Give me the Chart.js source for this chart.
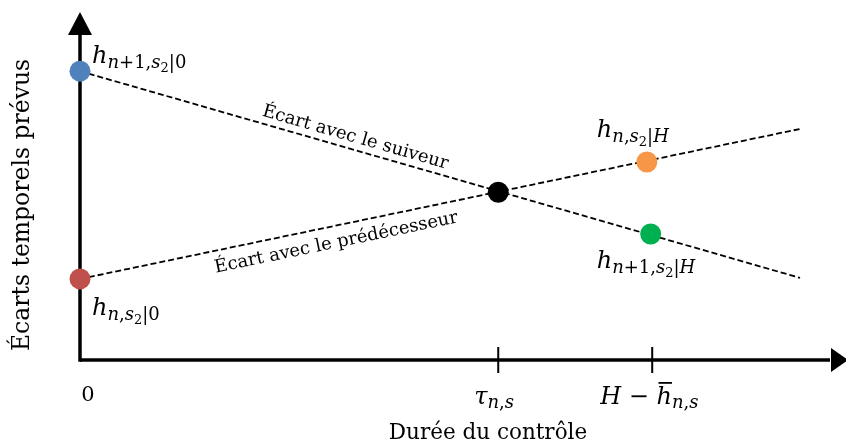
<!DOCTYPE html>
<html>
<head>
<meta charset="utf-8">
<script src="https://cdn.jsdelivr.net/npm/chart.js@4/dist/chart.umd.min.js"></script>
<style>
html, body { margin: 0; padding: 0; background: #fff; }
#wrap { width: 846px; height: 443px; }
</style>
</head>
<body>
<div id="wrap"><canvas id="graphe"></canvas></div>
<script>
// valeurs (unites arbitraires, 0..10 sur chaque axe)
var suiveurX = [0, 9.40];
var suiveurY = [8.30, 2.36];
var predX = [0, 9.40];
var predY = [2.33, 6.64];

var pointX = [0, 0, 5.46, 7.40, 7.45];
var pointY = [8.30, 2.33, 4.82, 5.69, 3.62];
var pointColors = ['#4F81BD', '#C0504D', '#000000', '#F79646', '#00B050'];

var tickX = [0, 5.46, 7.47];

var SERIF = '"DejaVu Serif"';

function toXY(xs, ys) {
	var out = [];
	for (var i = 0; i < xs.length; i++) out.push({x: xs[i], y: ys[i]});
	return out;
}

// segs : [texte, taille, decalage vertical, italique]
function drawMath(ctx, x, y, segs) {
	var cx = x;
	ctx.textAlign = 'left';
	ctx.textBaseline = 'alphabetic';
	segs.forEach(function (s) {
		ctx.font = (s[3] ? 'italic ' : '') + s[1] + 'px ' + SERIF;
		ctx.fillText(s[0], cx, y + s[2]);
		cx += ctx.measureText(s[0]).width;
	});
	return cx;
}

function textAlong(ctx, chart, xs, ys, atX, offset, txt, size) {
	var sx = chart.scales.x, sy = chart.scales.y;
	var x0 = sx.getPixelForValue(xs[0]), y0 = sy.getPixelForValue(ys[0]);
	var x1 = sx.getPixelForValue(xs[1]), y1 = sy.getPixelForValue(ys[1]);
	var ang = Math.atan2(y1 - y0, x1 - x0);
	var px = sx.getPixelForValue(atX);
	var py = y0 + (y1 - y0) * (px - x0) / (x1 - x0);
	ctx.save();
	ctx.translate(px - Math.sin(ang) * offset, py + Math.cos(ang) * offset);
	ctx.rotate(ang);
	ctx.font = size + 'px ' + SERIF;
	ctx.textAlign = 'center';
	ctx.textBaseline = 'middle';
	ctx.fillText(txt, 0, 0);
	ctx.restore();
}

var decor = {
	id: 'decor',
	beforeDatasetsDraw: function (chart) {
		var ctx = chart.ctx, a = chart.chartArea;
		var sx = chart.scales.x;
		var x0 = sx.getPixelForValue(0);
		ctx.save();
		ctx.strokeStyle = '#000';
		ctx.fillStyle = '#000';
		ctx.lineWidth = 3.5;
		// axe vertical
		ctx.beginPath();
		ctx.moveTo(x0, a.bottom + 1.75);
		ctx.lineTo(x0, a.top + 20);
		ctx.stroke();
		ctx.beginPath();
		ctx.moveTo(x0, a.top);
		ctx.lineTo(x0 - 12, a.top + 23);
		ctx.lineTo(x0 + 12, a.top + 23);
		ctx.closePath();
		ctx.fill();
		// axe horizontal
		ctx.beginPath();
		ctx.moveTo(x0, a.bottom);
		ctx.lineTo(a.right - 16, a.bottom);
		ctx.stroke();
		ctx.beginPath();
		ctx.moveTo(a.right + 2, a.bottom);
		ctx.lineTo(a.right - 15, a.bottom - 12);
		ctx.lineTo(a.right - 15, a.bottom + 12);
		ctx.closePath();
		ctx.fill();
		// graduations
		ctx.lineWidth = 2;
		tickX.slice(1).forEach(function (v) {
			var p = sx.getPixelForValue(v);
			ctx.beginPath();
			ctx.moveTo(p, a.bottom - 13);
			ctx.lineTo(p, a.bottom + 13);
			ctx.stroke();
		});
		ctx.restore();
	},
	afterDatasetsDraw: function (chart) {
		var ctx = chart.ctx, a = chart.chartArea;
		var sx = chart.scales.x, sy = chart.scales.y;
		ctx.save();
		ctx.fillStyle = '#000';

		// etiquettes des points
		var px = function (i) { return sx.getPixelForValue(pointX[i]); };
		var py = function (i) { return sy.getPixelForValue(pointY[i]); };
		var M = 24, S = 18, SS = 13;
		drawMath(ctx, px(0) + 12, py(0) - 8, [['h', M, 0, true], ['n', S, 5, true], ['+1,', S, 5, false], ['s', S, 5, true], ['2', SS, 9, false], ['|0', S, 5, false]]);
		drawMath(ctx, px(1) + 12, py(1) + 36, [['h', M, 0, true], ['n', S, 5, true], [',', S, 5, false], ['s', S, 5, true], ['2', SS, 9, false], ['|0', S, 5, false]]);
		drawMath(ctx, px(3) - 50, py(3) - 25, [['h', M, 0, true], ['n', S, 5, true], [',', S, 5, false], ['s', S, 5, true], ['2', SS, 9, false], ['|', S, 5, false], ['H', S, 5, true]]);
		drawMath(ctx, px(4) - 54, py(4) + 34, [['h', M, 0, true], ['n', S, 5, true], ['+1,', S, 5, false], ['s', S, 5, true], ['2', SS, 9, false], ['|', S, 5, false], ['H', S, 5, true]]);

		// libelles des graduations
		ctx.font = '21px ' + SERIF;
		ctx.textAlign = 'center';
		ctx.fillText('0', sx.getPixelForValue(tickX[0]) + 8, a.bottom + 41);
		drawMath(ctx, sx.getPixelForValue(tickX[1]) - 24, a.bottom + 44, [['τ', 24, 0, true], ['n', 18, 4, true], [',', 18, 4, false], ['s', 18, 4, true]]);
		var hx = sx.getPixelForValue(tickX[2]) - 52;
		var after = drawMath(ctx, hx, a.bottom + 44, [['H', 24, 0, true], [' − ', 24, 0, false]]);
		ctx.font = 'italic 24px ' + SERIF;
		var hw = ctx.measureText('h').width;
		ctx.fillRect(after + 2, a.bottom + 22, hw - 2, 1.8);
		drawMath(ctx, after, a.bottom + 44, [['h', 24, 0, true], ['n', 18, 4, true], [',', 18, 4, false], ['s', 18, 4, true]]);

		// titres des axes
		ctx.font = '21.5px ' + SERIF;
		ctx.textAlign = 'center';
		ctx.textBaseline = 'alphabetic';
		ctx.fillText('Durée du contrôle', 488, 439);
		ctx.save();
		ctx.translate(29, 205);
		ctx.rotate(-Math.PI / 2);
		ctx.font = '23.5px ' + SERIF;
		ctx.fillText('Écarts temporels prévus', 0, 0);
		ctx.restore();

		// libelles le long des droites
		textAlong(ctx, chart, suiveurX, suiveurY, 3.55, -12, 'Écart avec le suiveur', 18);
		textAlong(ctx, chart, predX, predY, 3.30, 17, 'Écart avec le prédécesseur', 18);
		ctx.restore();
	}
};

var ctx = document.getElementById('graphe').getContext('2d');
new Chart(ctx, {
	type: 'scatter',
	data: {
		datasets: [{
			label: 'points',
			data: toXY(pointX, pointY),
			backgroundColor: pointColors,
			borderWidth: 0,
			pointRadius: 10.5,
			pointHoverRadius: 10.5,
			clip: false
		}, {
			label: 'Écart avec le suiveur',
			type: 'line',
			data: toXY(suiveurX, suiveurY),
			borderColor: '#000',
			borderWidth: 1.8,
			borderDash: [6, 3],
			pointRadius: 0,
			fill: false,
			clip: false
		}, {
			label: 'Écart avec le prédécesseur',
			type: 'line',
			data: toXY(predX, predY),
			borderColor: '#000',
			borderWidth: 1.8,
			borderDash: [6, 3],
			pointRadius: 0,
			fill: false,
			clip: false
		}]
	},
	options: {
		responsive: true,
		maintainAspectRatio: false,
		animation: false,
		layout: { autoPadding: false, padding: { left: 80, top: 12, right: 0, bottom: 83 } },
		plugins: { legend: { display: false }, tooltip: { enabled: false } },
		scales: {
			x: { type: 'linear', min: 0, max: 10, display: false },
			y: { type: 'linear', min: 0, max: 10, display: false }
		}
	},
	plugins: [decor]
});
</script>
</body>
</html>
